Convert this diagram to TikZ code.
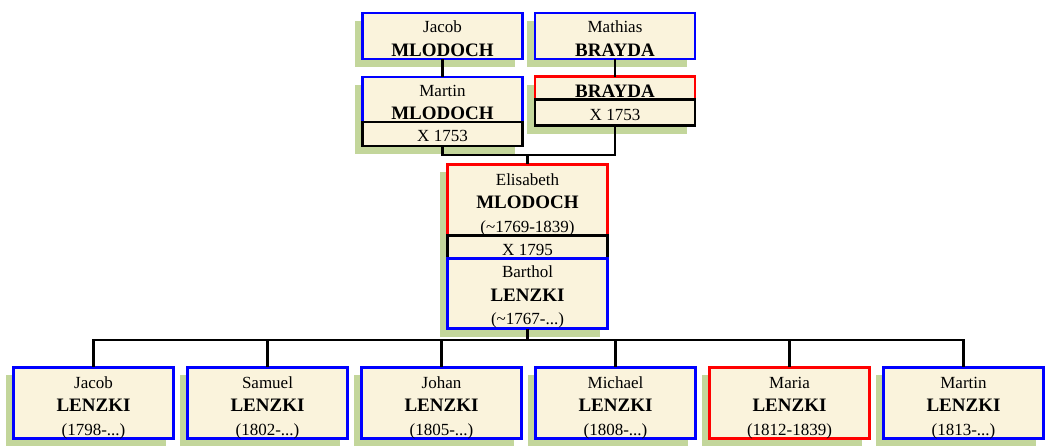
\documentclass[tikz,border=0pt]{standalone}
\usepackage{fontspec}
\setmainfont{Liberation Serif}
\usetikzlibrary{positioning,shadows}

\definecolor{cream}{HTML}{FAF3DC}
\definecolor{leaf}{HTML}{C3D69B}
\newcommand{\famname}[1]{{\fontsize{19pt}{23.5pt}\selectfont\bfseries #1}}
\newcommand{\lift}[1]{\rule{0pt}{#1}}

\tikzset{
  person/.style={draw=blue, fill=cream, line width=2.8pt, minimum width=160pt,
                 inner sep=0pt, outer sep=0pt, align=center,
                 font=\fontsize{17pt}{23.5pt}\selectfont,
                 general shadow={fill=leaf, shadow xshift=-8pt, shadow yshift=-8pt}},
  woman/.style={person, draw=red},
  wedding/.style={person, draw=black},
  child/.style={person, minimum height=68pt},
  link/.style={line width=2.4pt}
}

\begin{document}
\begin{tikzpicture}[x=1pt, y=-1pt]
  \useasboundingbox (0,0) rectangle (1050,445);

  % grandparents
  \node[person, minimum height=46pt] (jacobM)  at (442.5,36) {\lift{17pt}Jacob\\\famname{MLODOCH}};
  \node[person, minimum height=46pt] (mathias) at (615,36)   {\lift{17pt}Mathias\\\famname{BRAYDA}};

  % parents of Elisabeth
  \node[person, minimum height=45pt] (martin) at (442.5,99.5) {\lift{17.5pt}Martin\\\famname{MLODOCH}};
  \node[wedding, minimum height=24pt, below=0pt of martin] (martinX) {\lift{16pt}X 1753};
  \node[woman, minimum height=23pt] (brayda) at (615,88) {\lift{18.5pt}\famname{BRAYDA}};
  \node[wedding, minimum height=26pt, below=0pt of brayda] (braydaX) {\lift{16pt}X 1753};

  % the couple
  \node[woman, minimum height=68pt] (elisabeth) at (527.5,200)
        {\lift{20.7pt}Elisabeth\\\famname{MLODOCH}\\(\textasciitilde1769-1839)};
  \node[wedding, minimum height=23pt, below=0pt of elisabeth] (elisX) {\lift{16pt}X 1795};
  \node[person, minimum height=70pt, below=0pt of elisX] (barthol)
        {\lift{18.7pt}Barthol\\\famname{LENZKI}\\(\textasciitilde1767-...)};

  % children
  \node[child] (jacobL)  at (93.5,403)  {\lift{20.7pt}Jacob\\\famname{LENZKI}\\(1798-...)};
  \node[child] (samuel)  at (267.5,403) {\lift{20.7pt}Samuel\\\famname{LENZKI}\\(1802-...)};
  \node[child] (johan)   at (441.5,403) {\lift{20.7pt}Johan\\\famname{LENZKI}\\(1805-...)};
  \node[child] (michael) at (615.5,403) {\lift{20.7pt}Michael\\\famname{LENZKI}\\(1808-...)};
  \node[child, draw=red] (maria) at (789.5,403) {\lift{20.7pt}Maria\\\famname{LENZKI}\\(1812-1839)};
  \node[child] (martinL) at (963.5,403) {\lift{20.7pt}Martin\\\famname{LENZKI}\\(1813-...)};

  \coordinate (wed1) at (527.5,155);
  \coordinate (kids) at (527.5,340);

  % the lines
  \draw[link] (jacobM)  -- (martin)
              (mathias) -- (brayda);
  \draw[link] (martinX.south) |- (wed1) -| (braydaX.south)
              (wed1) -- (elisabeth.north);
  \draw[link] (barthol.south) -- (kids);
  \draw[link] (kids) -| (jacobL.north)
              (kids) -| (samuel.north)
              (kids) -| (johan.north)
              (kids) -| (michael.north)
              (kids) -| (maria.north)
              (kids) -| (martinL.north);
\end{tikzpicture}
\end{document}
